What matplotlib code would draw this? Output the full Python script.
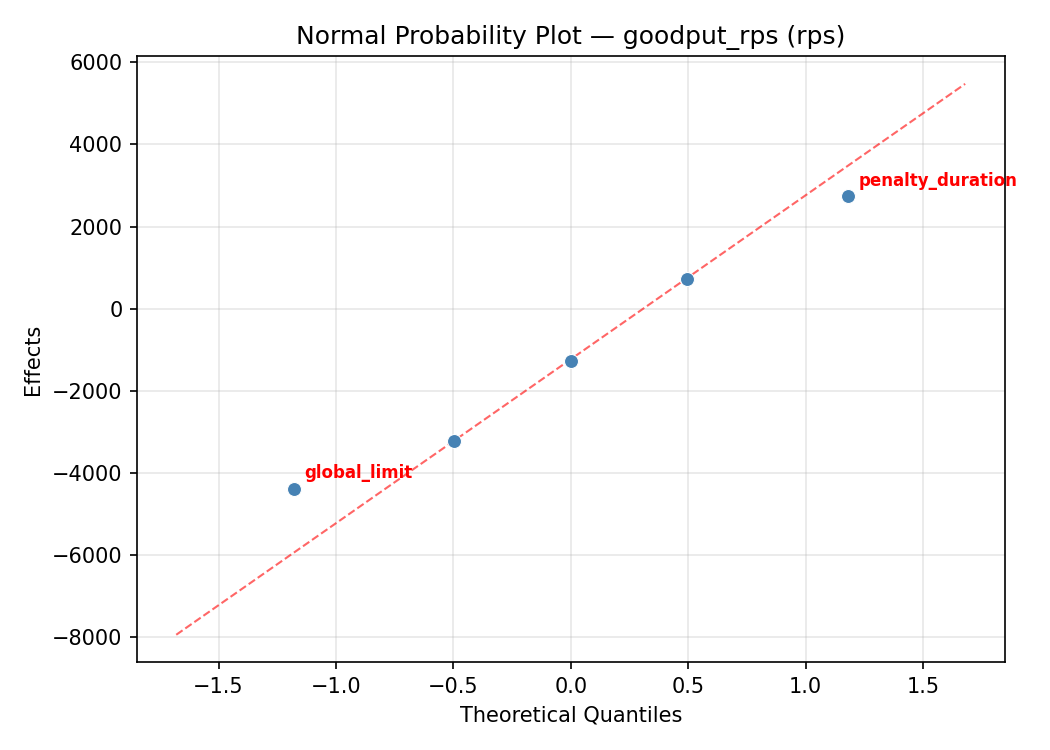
import numpy as np
import matplotlib
matplotlib.use("Agg")
import matplotlib.pyplot as plt

factors = ["global_limit", "f2", "f3", "f4", "penalty_duration"]
quantiles = [-1.18, -0.497, 0.0, 0.497, 1.18]
effects = [-4381, -3229, -1285, 733, 2737]
labeled = ["global_limit", "penalty_duration"]
line_slope = 3992
line_intercept = -1233
line_pad = 0.5

fig = plt.figure(figsize=(7, 5), dpi=150)
ax = fig.add_axes([0.1305, 0.117, 0.8265, 0.808])

ax.scatter(quantiles, effects, s=45, color="#4682B4", edgecolors="white",
           linewidths=0.5, zorder=3)

lx = np.array([min(quantiles) - line_pad, max(quantiles) + line_pad])
ax.plot(lx, line_slope * lx + line_intercept, "--", color="red", alpha=0.6,
        linewidth=1, zorder=2)

for name, q, e in zip(factors, quantiles, effects):
    if name in labeled:
        ax.annotate(name, (q, e), xytext=(5, 5), textcoords="offset points",
                    fontsize=8, fontweight="bold", color="red")

ax.set_xlim(-1.847, 1.849)
ax.set_ylim(-8609, 6146)
ax.grid(True, alpha=0.3)
ax.set_xlabel("Theoretical Quantiles")
ax.set_ylabel("Effects")
ax.set_title("Normal Probability Plot — goodput_rps (rps)")

fig.savefig("out.png", dpi=150)
